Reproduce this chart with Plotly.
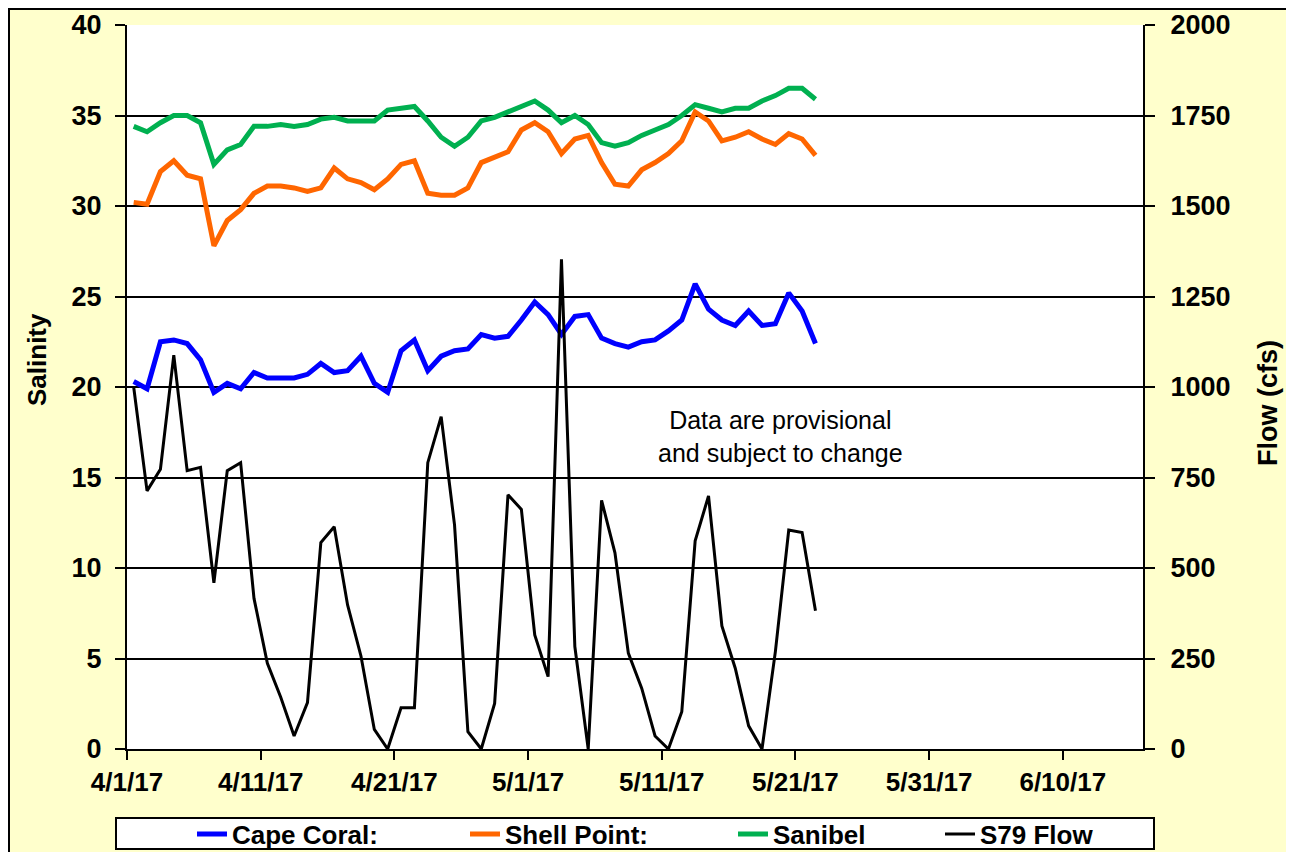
import plotly.graph_objects as go
import pandas as pd

dates = pd.date_range("2017-04-01", "2017-05-22", freq="D")

cape_coral = [20.3, 19.9, 22.5, 22.6, 22.4, 21.5, 19.7, 20.2, 19.9, 20.8,
              20.5, 20.5, 20.5, 20.7, 21.3, 20.8, 20.9, 21.7, 20.2, 19.7,
              22.0, 22.6, 20.9, 21.7, 22.0, 22.1, 22.9, 22.7, 22.8, 23.7,
              24.7, 24.0, 22.9, 23.9, 24.0, 22.7, 22.4, 22.2, 22.5, 22.6,
              23.1, 23.7, 25.7, 24.3, 23.7, 23.4, 24.2, 23.4, 23.5, 25.2,
              24.2, 22.4]

shell_point = [30.2, 30.1, 31.9, 32.5, 31.7, 31.5, 27.8, 29.2, 29.8, 30.7,
               31.1, 31.1, 31.0, 30.8, 31.0, 32.1, 31.5, 31.3, 30.9, 31.5,
               32.3, 32.5, 30.7, 30.6, 30.6, 31.0, 32.4, 32.7, 33.0, 34.2,
               34.6, 34.1, 32.9, 33.7, 33.9, 32.4, 31.2, 31.1, 32.0, 32.4,
               32.9, 33.6, 35.2, 34.7, 33.6, 33.8, 34.1, 33.7, 33.4, 34.0,
               33.7, 32.8]

sanibel = [34.4, 34.1, 34.6, 35.0, 35.0, 34.6, 32.3, 33.1, 33.4, 34.4,
           34.4, 34.5, 34.4, 34.5, 34.8, 34.9, 34.7, 34.7, 34.7, 35.3,
           35.4, 35.5, 34.7, 33.8, 33.3, 33.8, 34.7, 34.9, 35.2, 35.5,
           35.8, 35.3, 34.6, 35.0, 34.5, 33.5, 33.3, 33.5, 33.9, 34.2,
           34.5, 35.0, 35.6, 35.4, 35.2, 35.4, 35.4, 35.8, 36.1, 36.5,
           36.5, 35.9]

s79_flow = [1000, 713, 773, 1088, 769, 778, 459, 769, 791, 416,
            237, 143, 36, 128, 570, 614, 398, 257, 54, 0,
            114, 114, 791, 918, 619, 48, 0, 126, 702, 662,
            315, 200, 1353, 283, 0, 687, 542, 265, 168, 36,
            0, 103, 575, 699, 340, 223, 64, 0, 269, 605,
            598, 382]

series_names = ["Cape Coral:", "Shell Point:", "Sanibel", "S79 Flow"]
series_colors = ["#0000FF", "#FF6600", "#00B050", "#000000"]

y_ticks_left = list(range(0, 41, 5))
y_ticks_right = list(range(0, 2001, 250))

# the page body adds an 8px margin; size the figure so the screen matches
OFF = 8
SW, SH = 1294, 852
W, H = SW - OFF, SH - OFF
L, R, T, B = 127, 1143, 25, 749          # plot area in screen pixels
pw, ph = R - L, B - T


def px_x(p):
    return (p - L) / pw


def px_y(p):
    return (B - p) / ph


fig = go.Figure()
day_ms = 86400000
legend_ids = ["legend", "legend2", "legend3", "legend4"]
for vals, name, color, lg in zip([cape_coral, shell_point, sanibel],
                                 series_names[:3], series_colors[:3],
                                 legend_ids[:3]):
    fig.add_trace(go.Scatter(x=dates, y=vals, name=name, mode="lines",
                             line=dict(color=color, width=5), legend=lg,
                             xperiod=day_ms, xperiodalignment="middle"))
fig.add_trace(go.Scatter(x=dates, y=s79_flow, name=series_names[3], mode="lines",
                         line=dict(color=series_colors[3], width=3),
                         legend=legend_ids[3],
                         xperiod=day_ms, xperiodalignment="middle",
                         yaxis="y2"))

tick_font = dict(family="Liberation Sans, Arial, sans-serif", size=27,
                 color="black", weight="bold")
narrow = "Liberation Sans Narrow, Arial Narrow, sans-serif"
legend_font = dict(family=narrow, size=26, color="black", weight="bold")
legend_text_x = [232, 505, 773, 980]   # screen px where each entry's text begins


def make_legend(text_x):
    return dict(orientation="h", x=px_x(text_x - 40), y=px_y(834),
                xanchor="left", yanchor="middle", bgcolor="rgba(0,0,0,0)",
                borderwidth=0, font=legend_font, itemwidth=30)


fig.update_layout(
    width=W, height=H,
    margin=dict(l=L - OFF, r=SW - R, t=T - OFF, b=SH - B, autoexpand=False),
    paper_bgcolor="#FFFFCC",
    plot_bgcolor="white",
    showlegend=True,
    xaxis=dict(type="date", range=["2017-04-01", "2017-06-16"],
               tick0="2017-04-01", dtick=10 * day_ms, tickformat="%-m/%-d/%y",
               showgrid=False, showline=True, linecolor="black", linewidth=2,
               ticks="outside", ticklen=9, tickwidth=2, tickcolor="black",
               tickfont=dict(tick_font, size=26), zeroline=False),
    yaxis=dict(range=[0, 40], tickvals=y_ticks_left, showgrid=True,
               gridcolor="black", gridwidth=2, showline=True, linecolor="black",
               linewidth=2, ticks="outside", ticklen=10, tickwidth=2,
               tickcolor="black", tickfont=tick_font, zeroline=False,
               ticklabelstandoff=8),
    yaxis2=dict(range=[0, 2000], tickvals=y_ticks_right, overlaying="y",
                side="right", showgrid=False, showline=True, linecolor="black",
                linewidth=2, ticks="outside", ticklen=10, tickwidth=2,
                tickcolor="black", tickfont=tick_font, zeroline=False,
                ticklabelstandoff=10),
    shapes=[
        dict(type="rect", xref="paper", yref="paper",
             x0=px_x(9), x1=px_x(1287), y0=px_y(870), y1=px_y(9),
             line=dict(color="black", width=2), layer="below"),
        dict(type="rect", xref="paper", yref="paper",
             x0=px_x(116), x1=px_x(1154), y0=px_y(849), y1=px_y(818),
             line=dict(color="black", width=2), fillcolor="white", layer="below"),
    ],
    annotations=[
        dict(text="Data are provisional<br>and subject to change",
             xref="paper", yref="paper", x=px_x(780), y=px_y(436),
             xanchor="center", yanchor="middle",
             showarrow=False, align="center",
             font=dict(family="Liberation Sans, Arial, sans-serif", size=25,
                       color="black")),
        dict(text="Salinity", xref="paper", yref="paper", x=px_x(37),
             y=px_y(360), xanchor="center", yanchor="middle",
             textangle=-90, showarrow=False,
             font=dict(family=narrow, size=26, color="black", weight="bold")),
        dict(text="Flow (cfs)", xref="paper", yref="paper", x=px_x(1268),
             y=px_y(403), xanchor="center", yanchor="middle",
             textangle=-90, showarrow=False,
             font=dict(family=narrow, size=27, color="black", weight="bold")),
    ],
)
fig.update_layout({lg: make_legend(tx) for lg, tx in zip(legend_ids, legend_text_x)})

fig.write_html("out.html")
